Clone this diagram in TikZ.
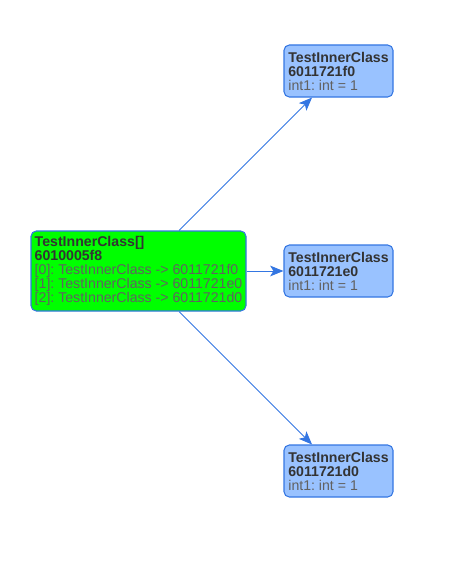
\documentclass[tikz,border=0pt]{standalone}
\usepackage{fontspec}
\setmainfont{Liberation Sans}
\usepackage{xcolor}
\usetikzlibrary{arrows.meta, positioning}
\definecolor{EdgeBlue}{RGB}{52,118,226}
\definecolor{ObjBlue}{RGB}{153,194,255}
\definecolor{ArrGreen}{RGB}{0,255,0}
\definecolor{TxtDark}{RGB}{51,51,51}
\frenchspacing

\begin{document}
\begin{tikzpicture}[x=0.75pt,y=-0.75pt,
        obj/.style={draw=EdgeBlue,rounded corners=4pt,line width=0.8pt,
                    align=left,inner xsep=2pt,inner ysep=0pt,
                    font=\fontsize{10.6}{10.5}\selectfont,text=TxtDark},
        cls/.style={obj,fill=ObjBlue,minimum width=81.75pt,minimum height=39pt},
        arr/.style={obj,fill=ArrGreen,minimum width=161.25pt,minimum height=60pt},
        ref/.style={draw=EdgeBlue,line width=0.6pt,
                    -{Stealth[length=10pt,width=8pt,inset=2.5pt]}}
      ]
        \useasboundingbox (0,0) rectangle (459,567);
        \newcommand{\fld}[1]{{\color{black!62}#1}}
        \node[arr] (arr) at (138.5,271)
          {\textbf{TestInnerClass[]}\\ \textbf{6010005f8}\\
           \fld{[0]: TestInnerClass -> 6011721f0}\\
           \fld{[1]: TestInnerClass -> 6011721e0}\\
           \fld{[2]: TestInnerClass -> 6011721d0}};
        \node[cls] (o0) at (338.5,71)
          {\textbf{TestInnerClass}\\ \textbf{6011721f0}\\ \fld{int1: int = 1}};
        \node[cls] (o1) at (338.5,271)
          {\textbf{TestInnerClass}\\ \textbf{6011721e0}\\ \fld{int1: int = 1}};
        \node[cls] (o2) at (338.5,471)
          {\textbf{TestInnerClass}\\ \textbf{6011721d0}\\ \fld{int1: int = 1}};
        % references
        \draw[ref] (arr) -- (o0);
        \draw[ref] (arr) -- (o1);
        \draw[ref] (arr) -- (o2);
      \end{tikzpicture}
\end{document}
